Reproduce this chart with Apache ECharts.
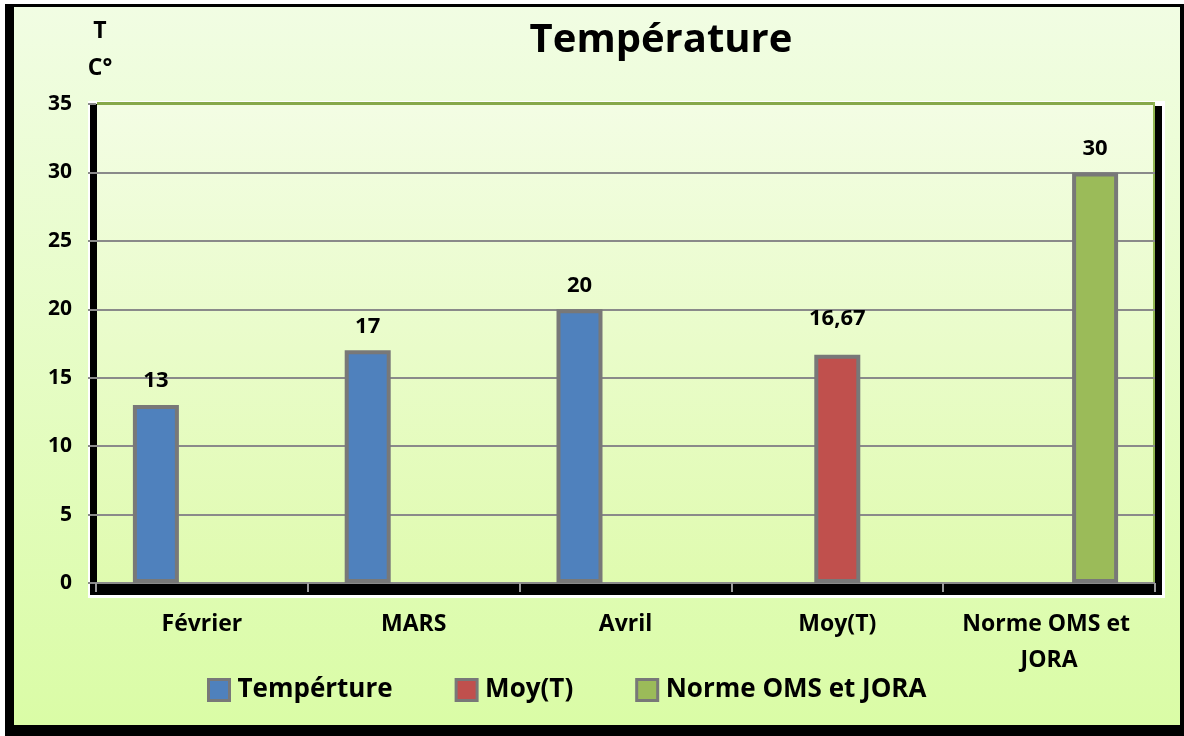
<!DOCTYPE html>
<html>
<head>
<meta charset="utf-8">
<title>Température</title>
<script src="https://cdn.jsdelivr.net/npm/echarts@6/dist/echarts.min.js"></script>
<style>
  html, body { margin: 0; padding: 0; background: #ffffff; }
  #chart { width: 1184px; height: 736px; }
</style>
</head>
<body>
<div id="chart"></div>
<script>
// Categories on the x axis
const categories = ['Février', 'MARS', 'Avril', 'Moy(T)', 'Norme OMS et JORA'];
// Monthly temperatures (°C)
const temperatures = [13, 17, 20, null, null];
// Mean of the three months
const moyenne = [null, null, null, 16.67, null];
// Regulatory limit (OMS / JORA)
const norme = [null, null, null, null, 30];
// Value axis ticks
const yMin = 0;
const yMax = 35;
const yStep = 5;

const FONT = '"Open Sans", "Noto Sans", sans-serif';
const fmt = v => String(v).replace('.', ',');
const BAR_BORDER = '#787878';

const chart = echarts.init(document.getElementById('chart'), null, { renderer: 'canvas' });

const barCommon = {
  type: 'bar',
  barWidth: 46,
  barGap: '0%',
  z: 4,
  itemStyle: { borderColor: BAR_BORDER, borderWidth: 4 },
  label: {
    show: true,
    position: 'top',
    distance: 13,
    fontFamily: FONT,
    fontWeight: 'bold',
    fontSize: 22,
    color: '#000',
    formatter: p => fmt(p.value)
  }
};

const option = {
  backgroundColor: '#ffffff',
  animation: false,
  graphic: [
    // outer black frame
    { type: 'rect', z: 0, shape: { x: 5, y: 4, width: 1179, height: 732 }, style: { fill: '#000000' } },
    // chart area fill
    { type: 'rect', z: 0, shape: { x: 14, y: 7, width: 1166, height: 718 },
      style: { fill: new echarts.graphic.LinearGradient(0, 0, 0, 1, [
        { offset: 0, color: '#f1fde3' }, { offset: 1, color: '#dafca6' }]) } },
    // plot area highlight
    { type: 'rect', z: 0, shape: { x: 88, y: 101, width: 1077, height: 497 }, style: { fill: '#ffffff' } },
    // plot area fill
    { type: 'rect', z: 0, shape: { x: 90, y: 103, width: 1065, height: 492 },
      style: { fill: new echarts.graphic.LinearGradient(0, 0, 0, 1, [
        { offset: 0, color: '#f3fde4' }, { offset: 1, color: '#dffbae' }]) } },
    // plot frame bands
    { type: 'rect', z: 1, shape: { x: 90, y: 104, width: 7, height: 491 }, style: { fill: '#000000' } },
    { type: 'rect', z: 1, shape: { x: 90, y: 584, width: 1072, height: 11 }, style: { fill: '#000000' } },
    { type: 'rect', z: 1, shape: { x: 1155, y: 106, width: 7, height: 489 }, style: { fill: '#000000' } },
    { type: 'rect', z: 1, shape: { x: 97, y: 102, width: 1058, height: 3 }, style: { fill: '#86a84a' } },
    { type: 'rect', z: 1, shape: { x: 1153, y: 102, width: 2, height: 482 }, style: { fill: '#8fb450' } },
    // title
    { type: 'text', z: 6, x: 661, y: 41,
      style: { text: 'Température', font: 'bold 40px ' + FONT, fill: '#000',
        align: 'center', verticalAlign: 'middle', textAlign: 'center', textVerticalAlign: 'middle' } }
  ],
  grid: { left: 96, right: 29, top: 104, bottom: 153, containLabel: false },
  legend: {
    z: 6,
    left: 202,
    top: 672,
    icon: 'rect',
    itemWidth: 21,
    itemHeight: 21,
    itemGap: 62,
    itemStyle: { borderColor: BAR_BORDER, borderWidth: 3 },
    textStyle: { fontFamily: FONT, fontWeight: 'bold', fontSize: 26, color: '#000', padding: [0, 0, 0, 3] },
    data: ['Tempérture', 'Moy(T)', 'Norme OMS et JORA']
  },
  xAxis: {
    type: 'category',
    z: 3,
    data: categories,
    axisLine: { show: false },
    axisTick: { show: true, length: 9, lineStyle: { color: '#9a9a9a', width: 2 } },
    axisLabel: {
      margin: 23,
      fontFamily: FONT,
      fontWeight: 'bold',
      fontSize: 23,
      lineHeight: 36,
      color: '#000',
      width: 195,
      overflow: 'break',
      interval: 0
    }
  },
  yAxis: {
    type: 'value',
    z: 3,
    min: yMin,
    max: yMax,
    interval: yStep,
    name: 'T\nC°',
    nameLocation: 'end',
    nameGap: 17,
    nameTextStyle: { fontFamily: FONT, fontWeight: 'bold', fontSize: 23, lineHeight: 37, color: '#000', padding: [0, 0, 0, 8] },
    axisLine: { show: false },
    axisTick: { show: true, length: 8, lineStyle: { color: '#8a8a8a', width: 2 } },
    splitLine: { show: true, showMaxLine: false, lineStyle: { color: '#8a8a8a', width: 2 } },
    axisLabel: { margin: 24, fontFamily: FONT, fontWeight: 'bold', fontSize: 21, color: '#000' }
  },
  series: [
    Object.assign({}, barCommon, {
      name: 'Tempérture',
      itemStyle: Object.assign({}, barCommon.itemStyle, { color: '#4f81bd' }),
      data: temperatures
    }),
    Object.assign({}, barCommon, {
      name: 'Moy(T)',
      itemStyle: Object.assign({}, barCommon.itemStyle, { color: '#c0504d' }),
      // the mean's label sits a little higher above its bar
      data: moyenne.map(v => v == null ? null : { value: v, label: { distance: 25 } })
    }),
    Object.assign({}, barCommon, {
      name: 'Norme OMS et JORA',
      itemStyle: Object.assign({}, barCommon.itemStyle, { color: '#9bbb59' }),
      data: norme
    })
  ]
};

chart.setOption(option);
</script>
</body>
</html>
